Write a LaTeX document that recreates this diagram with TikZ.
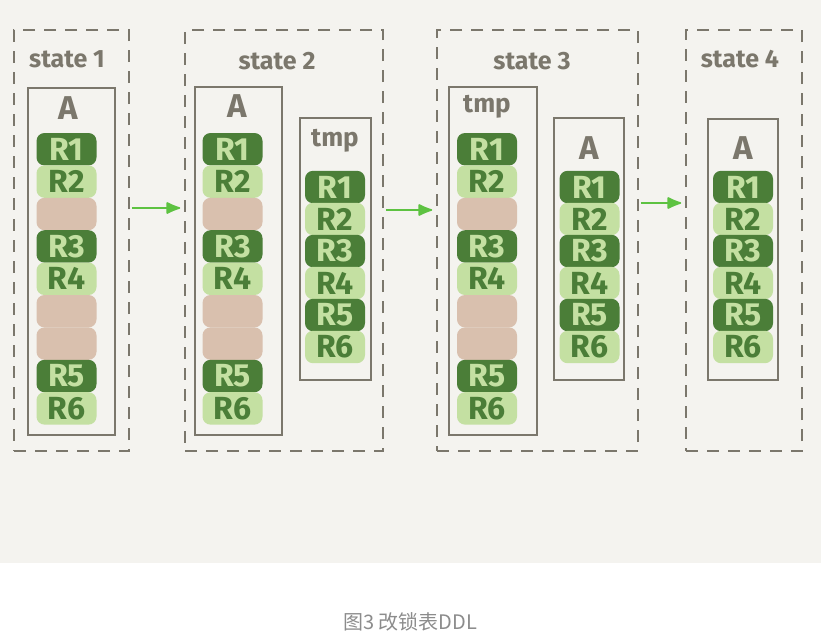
\documentclass[tikz,border=0pt]{standalone}
\usepackage{fontspec}
\setsansfont{Fira Sans}
\newfontfamily\cjk{Noto Sans CJK SC}
\usetikzlibrary{arrows.meta}

\definecolor{paper}{HTML}{F4F3EF}
\definecolor{frame}{HTML}{7B776C}
\definecolor{dkgreen}{HTML}{4B7E38}
\definecolor{ltgreen}{HTML}{C4E0A2}
\definecolor{beige}{HTML}{D9C0AE}
\definecolor{arrowgreen}{HTML}{5DC241}
\definecolor{capgray}{HTML}{8C8C8C}

\tikzset{
  rowbox/.style={rectangle, rounded corners=8pt, minimum width=60pt, minimum height=32.4pt,
    inner sep=0pt, font=\sffamily\bfseries\fontsize{32}{32}\selectfont},
  dk/.style={rowbox, fill=dkgreen, text=ltgreen},
  lt/.style={rowbox, fill=ltgreen, text=dkgreen},
  gap/.style={rowbox, fill=beige},
  statebox/.style={draw=frame, line width=1.6pt, dash pattern=on 12pt off 9pt,
    minimum height=421pt, inner sep=0pt},
  tablebox/.style={draw=frame, line width=1.6pt, inner sep=0pt},
  title/.style={text=frame, font=\sffamily\bfseries\fontsize{25}{25}\selectfont},
  tname/.style={text=frame, font=\sffamily\bfseries\fontsize{33}{33}\selectfont},
  tmpname/.style={text=frame, font=\sffamily\bfseries\fontsize{26}{26}\selectfont},
  flow/.style={draw=arrowgreen, line width=1.6pt, -{Latex[length=16pt,width=13pt,round]},
    shorten <=2pt, shorten >=4pt}
}

\def\fullcol{dk/R1,lt/R2,gap/,dk/R3,lt/R4,gap/,gap/,dk/R5,lt/R6}
\def\packcol{dk/R1,lt/R2,dk/R3,lt/R4,dk/R5,lt/R6}

\begin{document}
\begin{tikzpicture}[x=1pt,y=-1pt]
\useasboundingbox (0,0) rectangle (821,640);
\fill[paper] (0,0) rectangle (821,563);

% the four states
\node[statebox, minimum width=115pt] (s1) at (71.5,240.5) {};
\node[statebox, minimum width=198pt] (s2) at (284,240.5) {};
\node[statebox, minimum width=201pt] (s3) at (537.5,240.5) {};
\node[statebox, minimum width=116pt] (s4) at (744,240.5) {};

\node[title] (s1lbl) at (67,59) {state 1};
\node[title] (s2lbl) at (277,61) {state 2};
\node[title] (s3lbl) at (532,61) {state 3};
\node[title] (s4lbl) at (740,59) {state 4};

% tables
\node[tablebox, minimum width=87pt, minimum height=347pt] (t1) at (71.5,261.5) {};
\node[tablebox, minimum width=87pt, minimum height=348pt] (t2) at (238.5,261) {};
\node[tablebox, minimum width=71pt, minimum height=262pt] (t3) at (335.5,249) {};
\node[tablebox, minimum width=88pt, minimum height=348pt] (t4) at (493,261) {};
\node[tablebox, minimum width=70pt, minimum height=262pt] (t5) at (589,249) {};
\node[tablebox, minimum width=70pt, minimum height=261pt] (t6) at (743,249.5) {};

\node[tname] (t1lbl) at (68,108) {A};
\node[tname] (t2lbl) at (237,106) {A};
\node[tmpname] (t3lbl) at (335,141) {tmp};
\node[tmpname] (t4lbl) at (487,107) {tmp};
\node[tname] (t5lbl) at (589,148) {A};
\node[tname] (t6lbl) at (743,148) {A};

% rows
\foreach \k/\t [count=\i from 0] in \fullcol
   \node[\k] (t1r\i) at (66.5,{149.2+32.4*\i}) {\t};
\foreach \k/\t [count=\i from 0] in \fullcol
   \node[\k] (t2r\i) at (232.5,{149.2+32.4*\i}) {\t};
\foreach \k/\t [count=\i from 0] in \packcol
   \node[\k] (t3r\i) at (335,{187+32*\i}) {\t};
\foreach \k/\t [count=\i from 0] in \fullcol
   \node[\k] (t4r\i) at (487,{149.2+32.4*\i}) {\t};
\foreach \k/\t [count=\i from 0] in \packcol
   \node[\k] (t5r\i) at (589.5,{187+32*\i}) {\t};
\foreach \k/\t [count=\i from 0] in \packcol
   \node[\k] (t6r\i) at (743,{187+32*\i}) {\t};

% steps
\draw[flow] (s1.east |- 0,208) -- (s2.west |- 0,208);
\draw[flow] (s2.east |- 0,210) -- (s3.west |- 0,210);
\draw[flow] (s3.east |- 0,203) -- (s4.west |- 0,203);

\node[text=capgray, font=\cjk\fontsize{20}{20}\selectfont] (caption) at (410,622) {图3 改锁表DDL};
\end{tikzpicture}
\end{document}
